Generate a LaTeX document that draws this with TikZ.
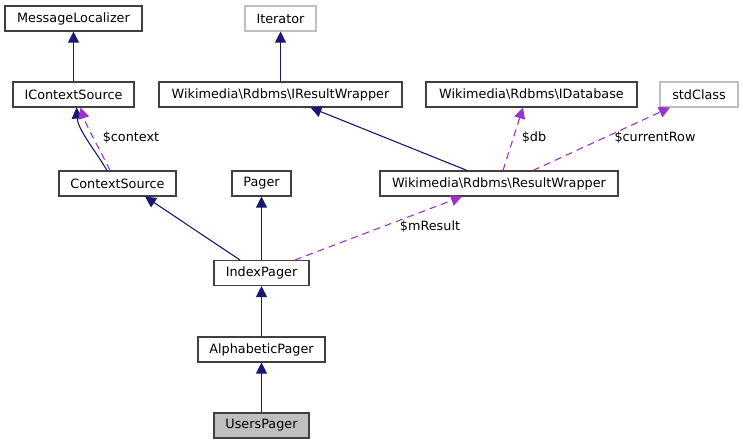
\documentclass[tikz,border=0pt]{standalone}
\usepackage{fontspec}
\setmainfont{DejaVu Sans}
\usetikzlibrary{arrows.meta}
\definecolor{navy}{HTML}{191970}
\definecolor{orchid}{HTML}{9A32CD}
\definecolor{boxgray}{HTML}{BFBFBF}
\definecolor{boxline}{HTML}{404040}
\tikzset{
  cls/.style={draw=boxline, line width=1.1pt, rectangle, inner sep=0pt, minimum height=25pt, font=\fontsize{12.8}{15}\selectfont, fill=white},
  ext/.style={cls, draw=boxgray},
  cur/.style={cls, fill=boxgray},
  inh/.style={draw=navy, line width=1.1pt, -{Triangle[length=11pt,width=11pt]}},
  use/.style={draw=orchid, line width=1.1pt, dash pattern=on 7pt off 5pt, -{Triangle[length=11pt,width=11pt,fill=orchid]}},
  lbl/.style={font=\fontsize{12.8}{15}\selectfont, inner sep=0pt}
}
\begin{document}
\begin{tikzpicture}[x=1pt,y=-1pt]
\useasboundingbox (0,0) rectangle (743,444);
\node[cls, minimum width=137pt] (ml) at (73.5,18.5) {MessageLocalizer};
\node[ext, minimum width=71pt] (it) at (280.5,18.5) {Iterator};
\node[cls, minimum width=121pt] (ics) at (73.5,94.5) {IContextSource};
\node[cls, minimum width=243pt] (irw) at (280.5,94.5) {Wikimedia\textbackslash Rdbms\textbackslash IResultWrapper};
\node[cls, minimum width=211pt] (idb) at (531.5,94.5) {Wikimedia\textbackslash Rdbms\textbackslash IDatabase};
\node[ext, minimum width=78pt] (std) at (699,94.5) {stdClass};
\node[cls, minimum width=117pt] (cs) at (117.5,183.5) {ContextSource};
\node[cls, minimum width=59pt] (pg) at (261.5,183.5) {Pager};
\node[cls, minimum width=238pt] (rw) at (499,183.5) {Wikimedia\textbackslash Rdbms\textbackslash ResultWrapper};
\node[cls, minimum width=95pt] (ip) at (261.5,273) {IndexPager};
\node[cls, minimum width=127pt] (ap) at (261.5,349.5) {AlphabeticPager};
\node[cur, minimum width=95pt] (up) at (261.5,425.5) {UsersPager};

% inheritance
\draw[inh] (ics.north) -- (ml.south);
\draw[inh] (irw.north) -- (it.south);
\draw[inh] ([xshift=-10.5pt]cs.north) .. controls (95,150) and (78,130) .. ([xshift=3pt]ics.south);
\draw[inh] ([xshift=-32pt]rw.north) -- ([xshift=30pt]irw.south);
\draw[inh] ([xshift=-21.5pt]ip.north) -- ([xshift=27.5pt]cs.south);
\draw[inh] (ip.north) -- (pg.south);
\draw[inh] (ap.north) -- (ip.south);
\draw[inh] (up.north) -- (ap.south);

% usage
\draw[use] ([xshift=-7.5pt]cs.north) .. controls (100,150) and (86,125) .. ([xshift=7pt]ics.south);
\draw[use] ([xshift=4pt]rw.north) -- ([xshift=-8.5pt]idb.south);
\draw[use] ([xshift=34pt]rw.north) -- ([xshift=-29pt]std.south);
\draw[use] ([xshift=33.5pt]ip.north) -- ([xshift=-37pt]rw.south);

\node[lbl] (l1) at (131,138) {\$context};
\node[lbl] (l2) at (534,138) {\$db};
\node[lbl] (l3) at (655,138) {\$currentRow};
\node[lbl] (l4) at (430,227) {\$mResult};
\end{tikzpicture}
\end{document}
